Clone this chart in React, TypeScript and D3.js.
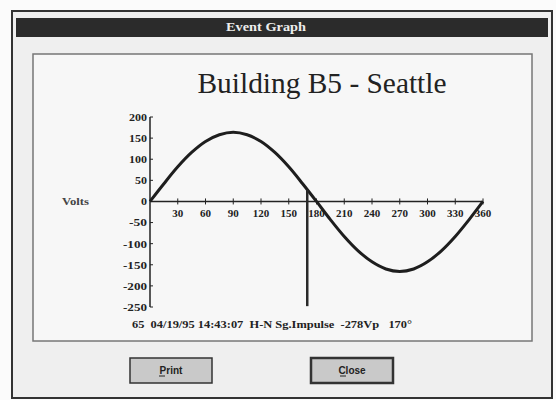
import * as d3 from "d3";
import React, { useEffect, useRef } from "react";

const width = 556;
const height = 400;

// waveform (degrees, volts)
const degrees = [0, 15, 30, 45, 60, 75, 90, 105, 120, 135, 150, 165, 180, 195, 210, 225, 240, 255, 270, 285, 300, 315, 330, 345, 360];
const volts = [0, 42, 82, 116, 142, 158, 164, 158, 142, 116, 82, 42, 0, -43, -83, -117, -143, -160, -166, -160, -143, -117, -83, -43, 0];
const xTicks = [30, 60, 90, 120, 150, 180, 210, 240, 270, 300, 330, 360];
const yTicks = [200, 150, 100, 50, 0, -50, -100, -150, -200, -250];
const markerDeg = 170;
const eventText = "65  04/19/95 14:43:07  H-N Sg.Impulse  -278Vp   170°";

export default function App() {
  const holderRef = useRef<HTMLDivElement | null>(null);

  useEffect(() => {
    const holder = holderRef.current;
    if (!holder || holder.hasChildNodes()) return;

    const svg = d3
      .select(holder)
      .append("svg")
      .attr("width", width)
      .attr("height", height)
      .attr("style", "display:block; position:absolute; left:0; top:0;");

    // page + window frame
    svg.append("rect").attr("width", width).attr("height", height).attr("fill", "#fbfbfb");
    svg
      .append("rect")
      .attr("x", 12)
      .attr("y", 11)
      .attr("width", 540)
      .attr("height", 387)
      .attr("fill", "#efefef")
      .attr("stroke", "#333")
      .attr("stroke-width", 2);
    svg.append("rect").attr("x", 16).attr("y", 18).attr("width", 532).attr("height", 19).attr("fill", "#2b2b2b");
    svg
      .append("text")
      .attr("x", 266)
      .attr("y", 31)
      .attr("text-anchor", "middle")
      .attr("fill", "#eeeeee")
      .attr("font-family", "Liberation Serif, serif")
      .attr("font-weight", "bold")
      .attr("font-size", 12)
      .attr("textLength", 80)
      .attr("lengthAdjust", "spacingAndGlyphs")
      .text("Event Graph");

    // inner panel
    svg
      .append("rect")
      .attr("x", 33)
      .attr("y", 54)
      .attr("width", 499)
      .attr("height", 287)
      .attr("fill", "#f7f7f7")
      .attr("stroke", "#777")
      .attr("stroke-width", 1.5);

    svg
      .append("text")
      .attr("x", 322)
      .attr("y", 93)
      .attr("text-anchor", "middle")
      .attr("fill", "#222")
      .attr("font-family", "Liberation Serif, Times New Roman, serif")
      .attr("font-size", 29)
      .attr("textLength", 249)
      .attr("lengthAdjust", "spacingAndGlyphs")
      .text("Building B5 - Seattle");

    const x = d3.scaleLinear().domain([0, 360]).range([150, 483]);
    const y = d3.scaleLinear().domain([-250, 200]).range([307, 117]);

    const g = svg.append("g").attr("fill", "#222").attr("font-family", "Liberation Serif, serif").attr("font-size", 11).attr("font-weight", "bold");

    // y axis
    g.append("line").attr("x1", x(0)).attr("x2", x(0)).attr("y1", y(200)).attr("y2", y(-250)).attr("stroke", "#222").attr("stroke-width", 1.5);
    g.selectAll(".yt")
      .data(yTicks)
      .join("line")
      .attr("x1", x(0))
      .attr("x2", x(0) + 3)
      .attr("y1", (d) => y(d))
      .attr("y2", (d) => y(d))
      .attr("stroke", "#222");
    g.selectAll(".yl")
      .data(yTicks)
      .join("text")
      .attr("x", x(0) - 3)
      .attr("y", (d) => y(d))
      .attr("dy", "0.35em")
      .attr("text-anchor", "end")
      .attr("textLength", (d) => String(d).length * 6)
      .attr("lengthAdjust", "spacingAndGlyphs")
      .text((d) => d);

    // x axis
    g.append("line").attr("x1", x(0)).attr("x2", x(360)).attr("y1", y(0)).attr("y2", y(0)).attr("stroke", "#222").attr("stroke-width", 1.5);
    g.selectAll(".xt")
      .data(xTicks)
      .join("line")
      .attr("x1", (d) => x(d))
      .attr("x2", (d) => x(d))
      .attr("y1", y(0) - 3)
      .attr("y2", y(0) + 3)
      .attr("stroke", "#222");
    g.selectAll(".xl")
      .data(xTicks)
      .join("text")
      .attr("x", (d) => x(d))
      .attr("y", y(0) + 16)
      .attr("text-anchor", "middle")
      .attr("textLength", (d) => String(d).length * 5.5)
      .attr("lengthAdjust", "spacingAndGlyphs")
      .text((d) => d);

    svg
      .append("text")
      .attr("x", 62)
      .attr("y", y(0) + 4)
      .attr("fill", "#444")
      .attr("font-family", "Liberation Serif, serif")
      .attr("font-size", 11)
      .attr("font-weight", "bold")
      .attr("textLength", 27)
      .attr("lengthAdjust", "spacingAndGlyphs")
      .text("Volts");

    // waveform
    const pts = degrees.map((d, i) => [d, volts[i]] as [number, number]);
    svg
      .append("path")
      .datum(pts)
      .attr("fill", "none")
      .attr("stroke", "#1e1e1e")
      .attr("stroke-width", 3)
      .attr("d", d3.line<[number, number]>().x((d) => x(d[0])).y((d) => y(d[1])).curve(d3.curveCatmullRom));

    // event marker
    svg
      .append("line")
      .attr("x1", x(markerDeg))
      .attr("x2", x(markerDeg))
      .attr("y1", y(28))
      .attr("y2", y(-248))
      .attr("stroke", "#2a2a2a")
      .attr("stroke-width", 2.5);

    svg
      .append("text")
      .attr("x", 132)
      .attr("y", 328)
      .attr("fill", "#222")
      .attr("font-family", "Liberation Serif, serif")
      .attr("font-size", 11)
      .attr("font-weight", "bold")
      .attr("textLength", 280)
      .attr("lengthAdjust", "spacingAndGlyphs")
      .attr("xml:space", "preserve")
      .text(eventText);

    // buttons
    const buttons = [
      { label: "Print", x: 130, bold: false },
      { label: "Close", x: 311, bold: true },
    ];
    const b = svg.selectAll(".btn").data(buttons).join("g").attr("transform", (d) => `translate(${d.x},358)`);
    b.append("rect")
      .attr("width", 82)
      .attr("height", 25)
      .attr("fill", "#c9c9c9")
      .attr("stroke", "#333")
      .attr("stroke-width", (d) => (d.bold ? 2.5 : 1.5));
    b.append("text")
      .attr("x", 41)
      .attr("y", 16)
      .attr("text-anchor", "middle")
      .attr("fill", "#222")
      .attr("font-family", "Liberation Sans, Arial, sans-serif")
      .attr("font-size", 10)
      .attr("font-weight", "bold")
      .text((d) => d.label);
    b.append("line")
      .attr("x1", 41 - 12)
      .attr("x2", 41 - 6)
      .attr("y1", 18)
      .attr("y2", 18)
      .attr("stroke", "#222");
  }, []);

  return <div ref={holderRef} />;
}
